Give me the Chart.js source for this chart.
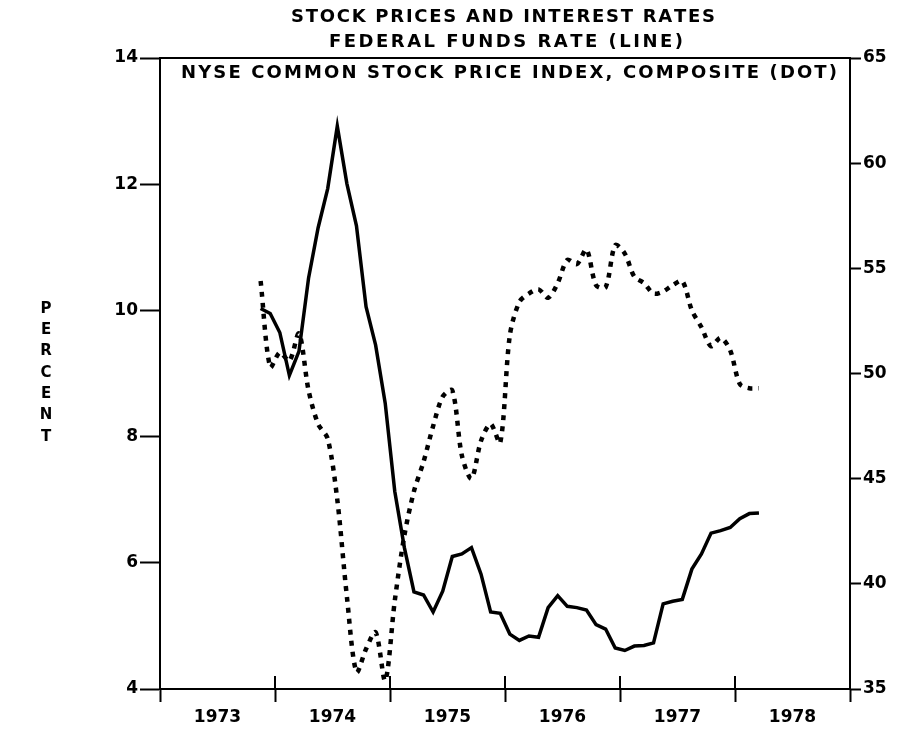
<!DOCTYPE html>
<html>
<head>
<meta charset="utf-8">
<script src="https://cdn.jsdelivr.net/npm/chart.js@4"></script>
<style>
  html, body { margin: 0; padding: 0; background: #fff; }
  #wrap { width: 908px; height: 739px; }
</style>
</head>
<body>
<div id="wrap"><canvas id="chart"></canvas></div>
<script>
// monthly series, first value = November 1973
const startYear = 1973;
const startMonth = 11;

// federal funds rate, percent (left axis)
const fedFunds = [
  10.03, 9.95,
  9.65, 8.97, 9.35, 10.51, 11.31, 11.93, 12.92, 12.01, 11.34, 10.06, 9.45, 8.53,
  7.13, 6.24, 5.54, 5.49, 5.22, 5.55, 6.10, 6.14, 6.24, 5.82, 5.22, 5.20,
  4.87, 4.77, 4.84, 4.82, 5.29, 5.48, 5.31, 5.29, 5.25, 5.02, 4.95, 4.65,
  4.61, 4.68, 4.69, 4.73, 5.35, 5.39, 5.42, 5.90, 6.14, 6.47, 6.51, 6.56,
  6.70, 6.78, 6.79
];

// NYSE composite index (right axis)
const nyseIndex = [
  54.4, 50.3,
  51.0, 50.6, 51.9, 49.2, 47.6, 46.9, 44.0, 39.4, 35.8, 36.9, 37.7, 35.4,
  39.2, 42.3, 44.4, 45.8, 47.5, 48.9, 49.2, 46.1, 45.0, 46.8, 47.6, 46.7,
  51.8, 53.4, 53.8, 54.0, 53.6, 54.3, 55.4, 55.2, 55.9, 54.2, 54.1, 56.1,
  55.7, 54.6, 54.3, 53.8, 53.9, 54.2, 54.4, 53.0, 52.2, 51.3, 51.7, 51.1,
  49.5, 49.3, 49.3
];

const years = [1973, 1974, 1975, 1976, 1977, 1978];
const yearLabels = ['1973', '1974', '1975', '1976', '1977', '1978'];
const leftTicks = [4, 6, 8, 10, 12, 14];
const rightTicks = [35, 40, 45, 50, 55, 60, 65];

const titleLines = [
  'STOCK PRICES AND INTEREST RATES',
  'FEDERAL FUNDS RATE (LINE)',
  'NYSE COMMON STOCK PRICE INDEX, COMPOSITE (DOT)'
];
const yTitle = 'PERCENT';

const FONT = "'DejaVu Sans', sans-serif";

// month index -> fractional year (middle of the month)
const monthPos = (i) => startYear + (startMonth - 1 + i + 0.5) / 12;
const toPoints = (arr) => arr.map((v, i) => ({ x: monthPos(i), y: v }));

// draw text spread out to a given width (the plotter font is wide)
function spacedText(ctx, text, cx, cy, width) {
  const chars = text.split('');
  const widths = chars.map(c => ctx.measureText(c).width);
  const natural = widths.reduce((a, b) => a + b, 0);
  const gap = (width - natural) / (chars.length - 1);
  let x = cx - width / 2;
  ctx.textAlign = 'left';
  ctx.textBaseline = 'middle';
  chars.forEach((c, i) => {
    ctx.fillText(c, x, cy);
    x += widths[i] + gap;
  });
}

const decorations = {
  id: 'decorations',
  afterDraw(chart) {
    const ctx = chart.ctx;
    const area = chart.chartArea;
    const xs = chart.scales.x;
    ctx.save();
    ctx.strokeStyle = '#000';
    ctx.fillStyle = '#000';
    ctx.lineWidth = 2;

    // top frame line
    ctx.beginPath();
    ctx.moveTo(area.left, area.top);
    ctx.lineTo(area.right, area.top);
    ctx.stroke();

    // x ticks also cross up into the plot
    years.concat([1979]).forEach(y => {
      const px = xs.getPixelForValue(y);
      ctx.beginPath();
      ctx.moveTo(px, area.bottom);
      ctx.lineTo(px, area.bottom - 13);
      ctx.stroke();
    });

    // titles
    ctx.font = 'bold 18px ' + FONT;
    spacedText(ctx, titleLines[0], 503, 17, 424);
    spacedText(ctx, titleLines[1], 506, 42, 354);
    spacedText(ctx, titleLines[2], 509, 73, 656);

    // stacked y title
    ctx.font = 'bold 15px ' + FONT;
    ctx.textAlign = 'center';
    ctx.textBaseline = 'middle';
    yTitle.split('').forEach((c, i) => {
      ctx.fillText(c, 46, 309 + i * 21.3);
    });
    ctx.restore();
  }
};

const tickFont = { family: FONT, size: 17, weight: 'bold' };

new Chart(document.getElementById('chart'), {
  type: 'line',
  data: {
    datasets: [
      {
        label: 'Federal funds rate',
        data: toPoints(fedFunds),
        yAxisID: 'y',
        borderColor: '#000',
        borderWidth: 3.5,
        pointRadius: 0,
        tension: 0,
        fill: false
      },
      {
        label: 'NYSE composite',
        data: toPoints(nyseIndex),
        yAxisID: 'y1',
        borderColor: '#000',
        borderWidth: 4.5,
        borderDash: [5, 6],
        pointRadius: 0,
        tension: 0.3,
        fill: false
      }
    ]
  },
  options: {
    responsive: true,
    maintainAspectRatio: false,
    animation: false,
    layout: { padding: { top: 58, left: 0, right: 0, bottom: 0 } },
    plugins: {
      legend: { display: false },
      tooltip: { enabled: false }
    },
    scales: {
      x: {
        type: 'linear',
        min: 1973,
        max: 1979,
        afterBuildTicks: (scale) => {
          const t = [];
          years.forEach(y => { t.push({ value: y }); t.push({ value: y + 0.5 }); });
          t.push({ value: 1979 });
          scale.ticks = t;
        },
        afterFit: (scale) => { scale.height = 50; },
        ticks: {
          autoSkip: false,
          maxRotation: 0,
          color: '#000',
          font: tickFont,
          padding: 5,
          callback: (v) => {
            const i = years.indexOf(v - 0.5);
            return i >= 0 ? yearLabels[i] : '';
          }
        },
        grid: {
          drawOnChartArea: false,
          tickLength: 13,
          tickWidth: 2,
          tickColor: (ctx) => (ctx.tick && ctx.tick.value % 1 === 0) ? '#000' : 'rgba(0,0,0,0)'
        },
        border: { color: '#000', width: 2 }
      },
      y: {
        position: 'left',
        min: 4,
        max: 14,
        afterBuildTicks: (scale) => { scale.ticks = leftTicks.map(v => ({ value: v })); },
        afterFit: (scale) => { scale.width = 160; },
        ticks: { color: '#000', font: tickFont, padding: 2 },
        grid: { drawOnChartArea: false, tickLength: 20, tickWidth: 2, tickColor: '#000' },
        border: { color: '#000', width: 2 }
      },
      y1: {
        position: 'right',
        min: 35,
        max: 65,
        afterBuildTicks: (scale) => { scale.ticks = rightTicks.map(v => ({ value: v })); },
        afterFit: (scale) => { scale.width = 58; },
        ticks: { color: '#000', font: tickFont, padding: 2 },
        grid: { drawOnChartArea: false, tickLength: 11, tickWidth: 2, tickColor: '#000' },
        border: { color: '#000', width: 2 }
      }
    }
  },
  plugins: [decorations]
});
</script>
</body>
</html>
